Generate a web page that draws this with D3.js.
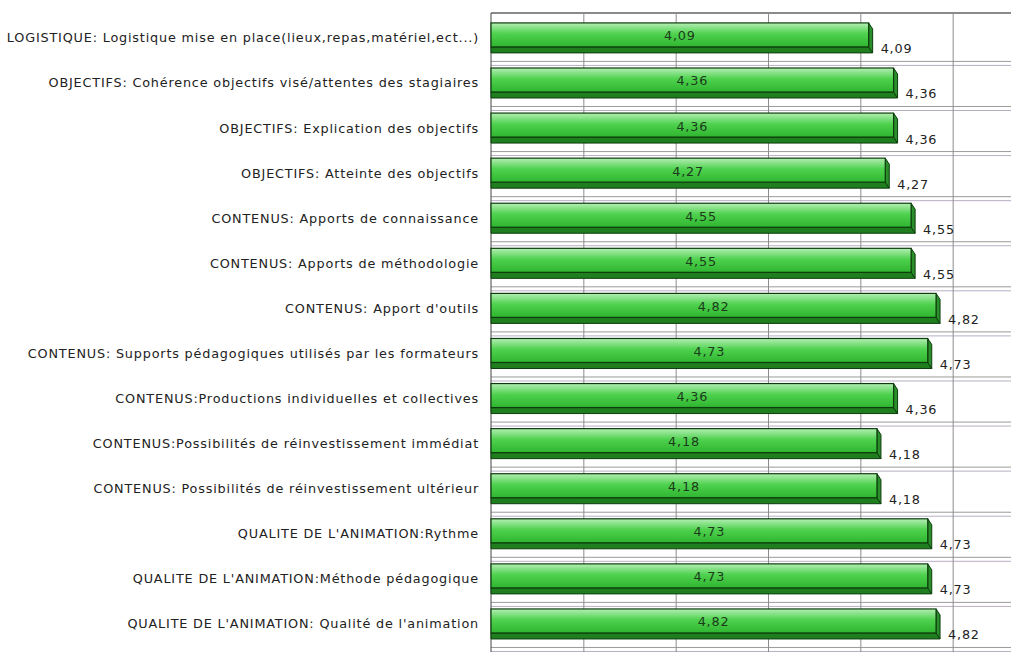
<!DOCTYPE html>
<html>
<head>
<meta charset="utf-8">
<script src="https://cdn.jsdelivr.net/npm/d3@7"></script>
<style>
  body { margin: 0; background: #fff; }
  svg text { font-family: "DejaVu Sans", Verdana, sans-serif; font-size: 12.8px; letter-spacing: 0.82px; }
</style>
</head>
<body>
<div id="chart"></div>
<script>
// categories and mean scores
var categories = [
  "LOGISTIQUE: Logistique mise en place(lieux,repas,matériel,ect...)",
  "OBJECTIFS: Cohérence objectifs visé/attentes des stagiaires",
  "OBJECTIFS: Explication des objectifs",
  "OBJECTIFS: Atteinte des objectifs",
  "CONTENUS: Apports de connaissance",
  "CONTENUS: Apports de méthodologie",
  "CONTENUS: Apport d'outils",
  "CONTENUS: Supports pédagogiques utilisés par les formateurs",
  "CONTENUS:Productions individuelles et collectives",
  "CONTENUS:Possibilités de réinvestissement immédiat",
  "CONTENUS: Possibilités de réinvestissement ultérieur",
  "QUALITE DE L'ANIMATION:Rythme",
  "QUALITE DE L'ANIMATION:Méthode pédagogique",
  "QUALITE DE L'ANIMATION: Qualité de l'animation"
];
var scores = [4.09, 4.36, 4.36, 4.27, 4.55, 4.55, 4.82, 4.73, 4.36, 4.18, 4.18, 4.73, 4.73, 4.82];
var gridTicks = [1, 2, 3, 4, 5, 6];

var data = categories.map(function (c, i) { return { cat: c, val: scores[i] }; });

var width = 1011, height = 652;
var plotTop = 13;
var dx = 4, dy = 6;      // 3D depth offset
var faceH = 24;          // height of bar front face

var fr = d3.formatLocale({ decimal: ",", thousands: " ", grouping: [3], currency: ["", "€"] });
var fmt = fr.format(".2f");

var svg = d3.select("#chart").append("svg")
  .attr("width", width)
  .attr("height", height);

var x = d3.scaleLinear().domain([0, 6]).range([491, 1045]);
var y = d3.scaleBand()
  .domain(categories)
  .range([plotTop, plotTop + 45.08 * (14 - 0.335 + 0.44)])
  .paddingInner(0.335)
  .paddingOuter(0.22);

// gradient for the bar face
var defs = svg.append("defs");
var grad = defs.append("linearGradient").attr("id", "barGrad")
  .attr("x1", 0).attr("y1", 0).attr("x2", 0).attr("y2", 1);
grad.append("stop").attr("offset", "0%").attr("stop-color", "#b4eeb4");
grad.append("stop").attr("offset", "45%").attr("stop-color", "#4fd24f");
grad.append("stop").attr("offset", "100%").attr("stop-color", "#2fb52f");

// horizontal grid (double lines between bars)
var hl = svg.append("g").attr("class", "hgrid");
hl.selectAll(".h1").data(categories).enter().append("line")
  .attr("x1", x(0)).attr("x2", width)
  .attr("y1", function (d) { return y(d) + 38.5; })
  .attr("y2", function (d) { return y(d) + 38.5; })
  .attr("stroke", "#9a9a9a");
hl.selectAll(".h2").data(categories).enter().append("line")
  .attr("x1", x(0)).attr("x2", width)
  .attr("y1", function (d) { return y(d) + 42.5; })
  .attr("y2", function (d) { return y(d) + 42.5; })
  .attr("stroke", "#b8aec4");

// vertical grid
svg.append("g")
  .attr("class", "vgrid")
  .attr("transform", "translate(0," + plotTop + ")")
  .call(d3.axisTop(x).tickValues(gridTicks).tickSize(-(height - plotTop)).tickFormat(""))
  .call(function (g) {
    g.select(".domain").remove();
    g.selectAll("line").attr("stroke", "#8c8c8c");
  });

// top border
svg.append("line")
  .attr("x1", x(0)).attr("x2", width)
  .attr("y1", plotTop).attr("y2", plotTop)
  .attr("stroke", "#8a8a8a").attr("stroke-width", 2);

// left axis with category labels
svg.append("g")
  .attr("class", "y axis")
  .attr("transform", "translate(" + x(0) + ",0)")
  .call(d3.axisLeft(y).tickSize(0).tickPadding(12))
  .call(function (g) {
    g.select(".domain").attr("stroke", "#444").attr("d", "M0," + plotTop + "V" + height);
    g.selectAll("text")
      .attr("fill", "#222")
      .attr("font-size", null)
      .attr("font-family", null)
      .attr("dy", "0.35em");
  });

var bars = svg.selectAll(".bar").data(data).enter().append("g").attr("class", "bar");

// bottom depth face
bars.append("path")
  .attr("d", function (d) {
    var x0 = x(0), x1 = x(d.val), yb = y(d.cat) + faceH;
    return "M" + x0 + "," + yb + "L" + x1 + "," + yb + "L" + (x1 + dx) + "," + (yb + dy) +
      "L" + x0 + "," + (yb + dy) + "Z";
  })
  .attr("fill", "#1f7f1f").attr("stroke", "#0d3d0d").attr("stroke-width", 1);

// right depth face
bars.append("path")
  .attr("d", function (d) {
    var x1 = x(d.val), yt = y(d.cat);
    return "M" + x1 + "," + yt + "L" + (x1 + dx) + "," + (yt + dy) + "L" + (x1 + dx) + "," +
      (yt + faceH + dy) + "L" + x1 + "," + (yt + faceH) + "Z";
  })
  .attr("fill", "#2a8f2a").attr("stroke", "#0d3d0d").attr("stroke-width", 1);

// front face
bars.append("rect")
  .attr("x", x(0))
  .attr("y", function (d) { return y(d.cat); })
  .attr("width", function (d) { return x(d.val) - x(0); })
  .attr("height", faceH)
  .attr("fill", "url(#barGrad)")
  .attr("stroke", "#0d3d0d").attr("stroke-width", 1.2);

// value inside bar
bars.append("text")
  .attr("x", function (d) { return (x(0) + x(d.val)) / 2; })
  .attr("y", function (d) { return y(d.cat) + 13; })
  .attr("text-anchor", "middle")
  .attr("dy", "0.35em")
  .attr("fill", "#1c3a1c")
  .text(function (d) { return fmt(d.val); });

// value label to the right
bars.append("text")
  .attr("x", function (d) { return x(d.val) + dx + 8; })
  .attr("y", function (d) { return y(d.cat) + 26; })
  .attr("dy", "0.35em")
  .attr("fill", "#222")
  .text(function (d) { return fmt(d.val); });
</script>
</body>
</html>
